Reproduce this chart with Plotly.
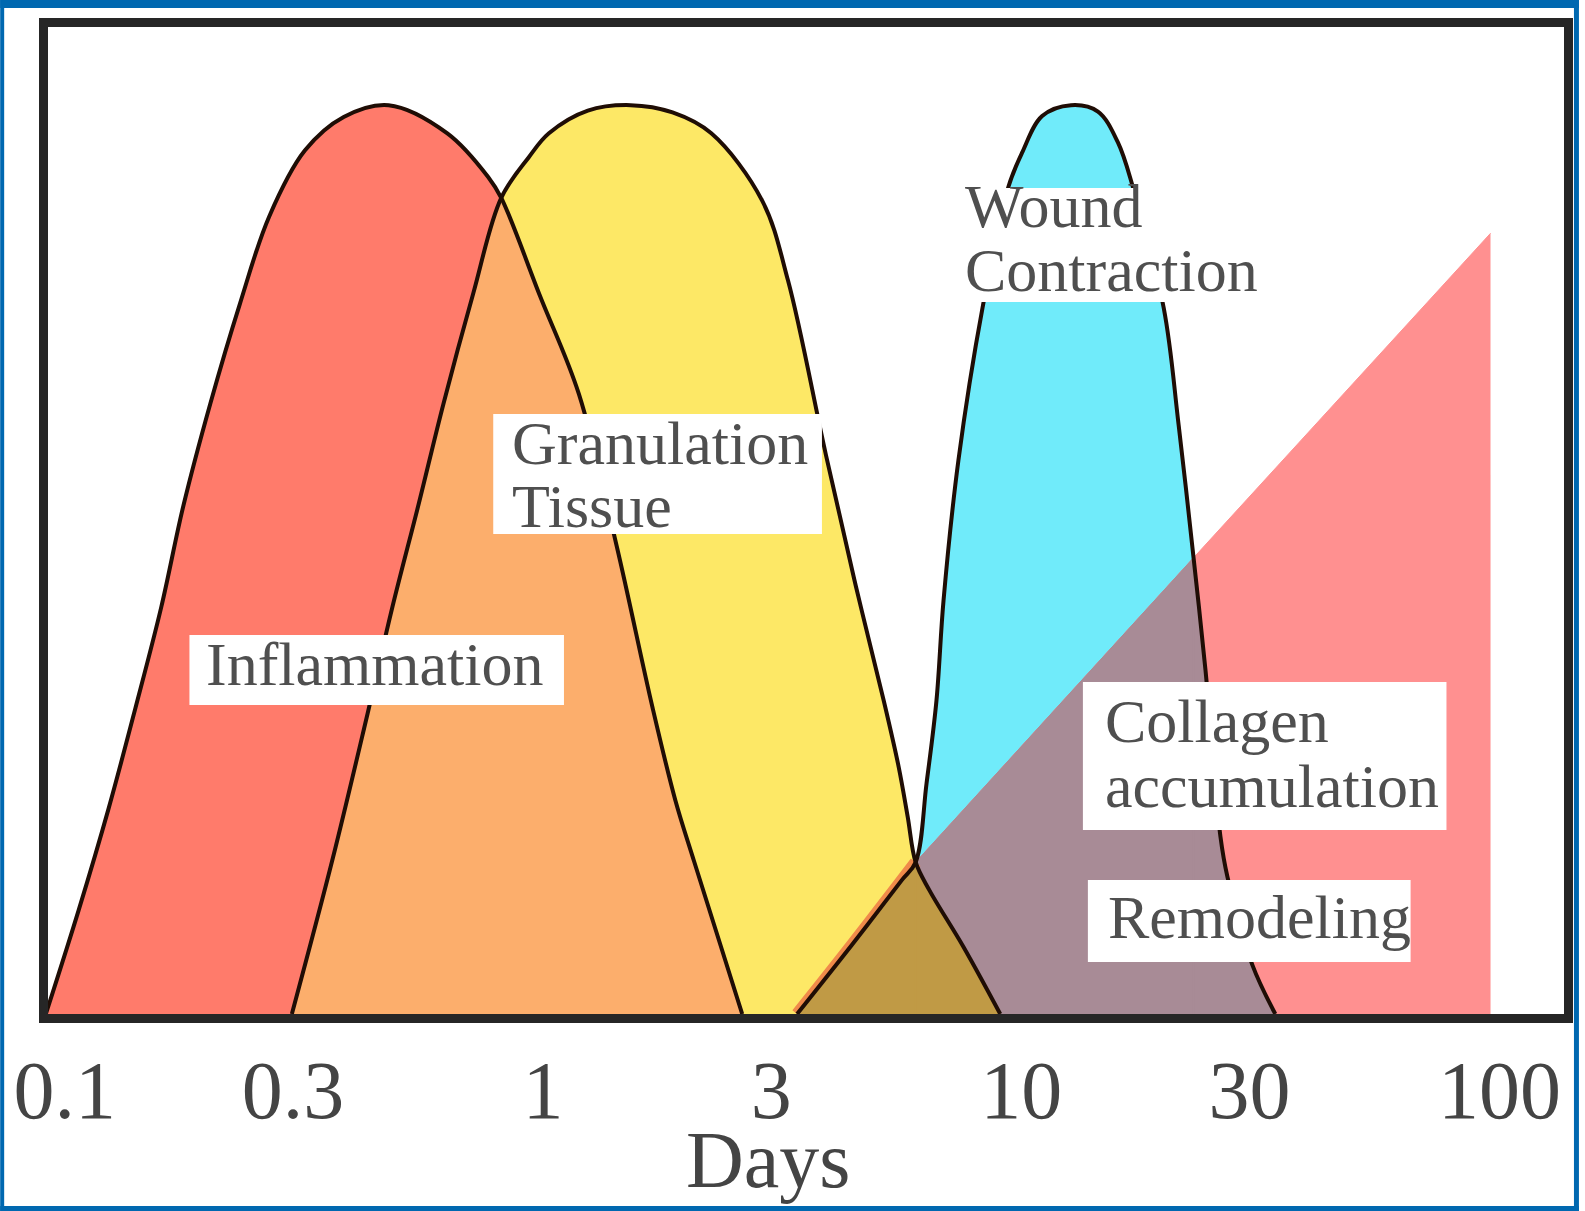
import plotly.graph_objects as go

# ---------------- data (days, relative intensity) ----------------
inflam_days = [0.0913, 0.1069, 0.1235, 0.1406, 0.1592, 0.1770, 0.2014, 0.2326, 0.2674, 0.3177, 0.3831, 0.4755,
               0.631, 0.768, 0.818, 0.986, 1.189, 1.426, 1.695, 1.892, 2.073, 2.61]
inflam_vals = [0, 11.4, 22.6, 33.7, 44.8, 55.9, 67.1, 78.2, 87.7, 95.0, 98.7, 100,
               96.9, 92.1, 89.8, 79.0, 68.2, 51.5, 33.7, 23.5, 16.7, 0]

gran_days = [0.2985, 0.3634, 0.430, 0.4845, 0.549, 0.619, 0.715, 0.818, 0.935, 1.029, 1.241, 1.525,
             1.866, 2.249, 2.873, 3.254, 3.906, 4.510, 5.158, 5.543, 5.79, 6.015, 6.43, 7.57, 9.04]
gran_vals = [0, 17.1, 33.1, 44.8, 56.0, 67.1, 79.3, 89.8, 94.3, 96.9, 99.4, 100,
             99.2, 96.9, 89.5, 80.7, 61.5, 47.1, 34.5, 27.2, 21.7, 16.7, 13.6, 7.4, 0]

wound_days = [3.399, 4.424, 5.623, 6.015, 6.34, 6.65, 6.88, 7.39, 8.30, 9.40, 10.05, 11.06, 12.71,
              14.47, 15.93, 17.12, 19.86, 21.34, 22.93, 24.29, 26.10, 26.99, 30.43, 33.99]
wound_vals = [0, 7.6, 14.7, 16.7, 25.4, 34.5, 45.5, 60.9, 77.7, 91.0, 94.8, 98.8, 100,
              99.3, 95.9, 91.0, 77.7, 64.8, 50.2, 37.8, 19.5, 15.1, 5.4, 0]

collagen_days = [6.015, 22.93, 95.8]
collagen_vals = [16.7, 50.2, 85.9]

tick_vals = [0.1, 0.3, 1, 3, 10, 30, 100]
tick_text = ["0.1", "0.3", "1", "3", "10", "30", "100"]

# indices of the crossing points inside the series
I_C1_INF, I_C1_GRAN = 14, 7      # inflammation x granulation
I_C2_GRAN, I_C2_WND = 21, 3      # granulation x wound contraction (collagen start)
I_C3_WND = 18                    # wound contraction x collagen line

# ---------------- geometry ----------------
W, H = 1585, 1211
L_M, R_M, T_M, B_M = 48, 15, 27, 197
PW = W - L_M - R_M
PH = H - T_M - B_M


def fx(px):
    return (px - L_M) / PW


def fy(py):
    return (H - B_M - py) / PH


def seg(days, vals, i0, i1):
    return days[i0:i1 + 1], vals[i0:i1 + 1]


RED = "#FF7B6B"
ORANGE = "#FCAE6C"
YELLOW = "#FDE866"
OLIVE = "#C09A45"
CYAN = "#70EBFA"
MAUVE = "#A88B96"
PINK = "#FF9090"
OUTLINE = "#1f0d05"

fig = go.Figure()


def add_fill(xy, color, shape="spline"):
    xs, ys = xy
    fig.add_trace(go.Scatter(x=list(xs), y=list(ys), mode="lines", fill="tozeroy", fillcolor=color,
                             line=dict(color=color, width=1, shape=shape, simplify=False),
                             hoverinfo="skip", showlegend=False))


def add_seam(d, v, color):
    fig.add_trace(go.Scatter(x=[d, d], y=[0, v], mode="lines",
                             line=dict(color=color, width=2),
                             hoverinfo="skip", showlegend=False))


# full bells
add_fill((gran_days, gran_vals), YELLOW)
add_fill((inflam_days, inflam_vals), RED)
# overlap of inflammation & granulation
add_fill(seg(gran_days, gran_vals, 0, I_C1_GRAN), ORANGE)
add_fill(seg(inflam_days, inflam_vals, I_C1_INF, len(inflam_days) - 1), ORANGE)
add_seam(inflam_days[I_C1_INF], inflam_vals[I_C1_INF], ORANGE)
# wound contraction bell
add_fill((wound_days, wound_vals), CYAN)
# collagen accumulation
add_fill((collagen_days, collagen_vals), PINK, shape="linear")
# overlap wound & collagen (remodeling)
add_fill(seg(collagen_days, collagen_vals, 0, 1), MAUVE, shape="linear")
add_fill(seg(wound_days, wound_vals, I_C3_WND, len(wound_days) - 1), MAUVE)
add_seam(wound_days[I_C3_WND], wound_vals[I_C3_WND], MAUVE)
# thin orange strip along rising wound tail
sx, sy = seg(wound_days, wound_vals, 0, I_C2_WND)
fig.add_trace(go.Scatter(x=sx, y=sy, mode="lines",
                         line=dict(color="#F08A4A", width=12, shape="spline", simplify=False),
                         hoverinfo="skip", showlegend=False))
# overlap granulation tail & wound tail
add_fill(seg(wound_days, wound_vals, 0, I_C2_WND), OLIVE)
add_fill(seg(gran_days, gran_vals, I_C2_GRAN, len(gran_days) - 1), OLIVE)
add_seam(gran_days[I_C2_GRAN], gran_vals[I_C2_GRAN], OLIVE)

# outlines
for d, v in ((inflam_days, inflam_vals), (gran_days, gran_vals), (wound_days, wound_vals)):
    fig.add_trace(go.Scatter(x=d, y=v, mode="lines",
                             line=dict(color=OUTLINE, width=4, shape="spline", simplify=False),
                             hoverinfo="skip", showlegend=False))

# ---------------- label boxes & text ----------------
boxes = [  # px: x0, y0, x1, y1
    (190, 635, 566, 705),
    (495, 414, 825, 534),
    (962, 188, 1265, 302),
    (1087, 682, 1452, 830),
    (1092, 880, 1416, 962),
]
shapes = []
for x0, y0, x1, y1 in boxes:
    shapes.append(dict(type="rect", xref="paper", yref="paper", x0=fx(x0), x1=fx(x1),
                       y0=fy(y1), y1=fy(y0), fillcolor="white", line=dict(width=0), layer="above"))

BLUE = "#0068B0"
for x0, y0, x1, y1 in [(0, 0, W, 8), (0, 0, 4, H), (W - 5, 0, W, H), (0, H - 5, W, H)]:
    shapes.append(dict(type="rect", xref="paper", yref="paper", x0=fx(x0), x1=fx(x1),
                       y0=fy(y1), y1=fy(y0), fillcolor=BLUE, line=dict(width=0), layer="above"))

labels = [  # text, left px, centre py
    ("Inflammation", 205, 664),
    ("Granulation", 512, 443),
    ("Tissue", 512, 506),
    ("Wound", 967, 206),
    ("Contraction", 967, 270),
    ("Collagen", 1107, 721),
    ("accumulation", 1107, 786),
    ("Remodeling", 1110, 917),
]
TXT = "#4f4f4f"
annotations = []
for t, px_, py_ in labels:
    annotations.append(dict(text=t, xref="paper", yref="paper", x=fx(px_), y=fy(py_),
                            xanchor="left", yanchor="middle", showarrow=False,
                            font=dict(family="Liberation Serif", size=62, color=TXT)))
annotations.append(dict(text="Days", xref="paper", yref="paper", x=fx(771), y=fy(1160),
                        xanchor="center", yanchor="middle", showarrow=False,
                        font=dict(family="Liberation Serif", size=80, color="#444444")))

fig.update_layout(
    width=W, height=H,
    margin=dict(l=L_M, r=R_M, t=T_M, b=B_M, pad=0),
    paper_bgcolor="white", plot_bgcolor="white", showlegend=False,
    xaxis=dict(type="log", range=[-1.035, 2.135], tickvals=tick_vals, ticktext=tick_text,
               showgrid=False, zeroline=False, showline=True, mirror=True,
               linecolor="#262626", linewidth=9, ticks="",
               tickfont=dict(family="Liberation Serif", size=82, color="#444444"),
               ticklabelstandoff=-3),
    yaxis=dict(range=[0, 108.6], showgrid=False, zeroline=False, showticklabels=False,
               showline=True, mirror=True, linecolor="#262626", linewidth=9, ticks=""),
    shapes=shapes, annotations=annotations,
)

fig.write_html("out.html", config={"displayModeBar": False},
               post_script="document.body.style.margin='0';document.body.style.overflow='hidden';")
